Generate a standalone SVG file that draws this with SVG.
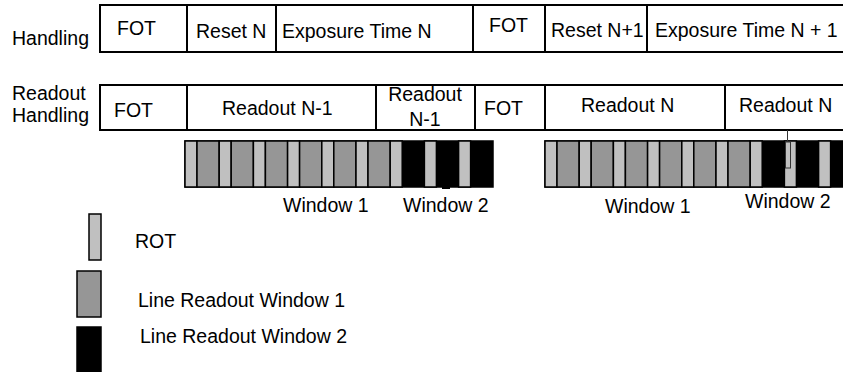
<svg xmlns="http://www.w3.org/2000/svg" xmlns:xlink="http://www.w3.org/1999/xlink" width="843" height="372" viewBox="0 0 843 372">
<style>
text{font-family:"Liberation Sans",Arial,sans-serif;font-size:19.5px;fill:#000}
.box{fill:#fff;stroke:#000;stroke-width:2}
.div{stroke:#000;stroke-width:2}
.rot{fill:#c0c0c0;stroke:#000;stroke-width:1.5}
.w1{fill:#969696;stroke:#000;stroke-width:1.5}
.w2{fill:#000;stroke:#000;stroke-width:1.5}
</style>
<rect width="843" height="372" fill="#fff"/>
<g id="row-handling">
<text x="12" y="45">Handling</text>
<rect class="box" x="100" y="5" width="760" height="47"/>
<line class="div" x1="187" y1="5" x2="187" y2="52"/>
<line class="div" x1="276" y1="5" x2="276" y2="52"/>
<line class="div" x1="473" y1="5" x2="473" y2="52"/>
<line class="div" x1="545" y1="5" x2="545" y2="52"/>
<line class="div" x1="647" y1="5" x2="647" y2="52"/>
<text x="117" y="35">FOT</text>
<text x="196" y="38">Reset N</text>
<text x="282" y="38">Exposure Time N</text>
<text x="489" y="32">FOT</text>
<text x="551" y="37">Reset N+1</text>
<text x="655" y="37">Exposure Time N + 1</text>
</g>
<g id="row-readout">
<text x="12" y="100">Readout</text>
<text x="12" y="122">Handling</text>
<rect class="box" x="100" y="85" width="760" height="45"/>
<line class="div" x1="187" y1="85" x2="187" y2="130"/>
<line class="div" x1="376" y1="85" x2="376" y2="130"/>
<line class="div" x1="475" y1="85" x2="475" y2="130"/>
<line class="div" x1="545" y1="85" x2="545" y2="130"/>
<line class="div" x1="725" y1="85" x2="725" y2="130"/>
<text x="114" y="117">FOT</text>
<text x="222" y="115">Readout N-1</text>
<text x="425" y="101" text-anchor="middle">Readout</text>
<text x="425" y="126" text-anchor="middle">N-1</text>
<text x="484" y="115">FOT</text>
<text x="581" y="112">Readout N</text>
<text x="739" y="112">Readout N</text>
</g>
<g id="bar1">
<rect class="w2" x="185" y="141" width="308" height="46"/>
<rect class="rot" x="185" y="141" width="12" height="46"/>
<rect class="w1" x="197" y="141" width="22.2" height="46"/>
<rect class="rot" x="219.2" y="141" width="12" height="46"/>
<rect class="w1" x="231.2" y="141" width="22.2" height="46"/>
<rect class="rot" x="253.4" y="141" width="12" height="46"/>
<rect class="w1" x="265.4" y="141" width="22.2" height="46"/>
<rect class="rot" x="287.6" y="141" width="12" height="46"/>
<rect class="w1" x="299.6" y="141" width="22.2" height="46"/>
<rect class="rot" x="321.8" y="141" width="12" height="46"/>
<rect class="w1" x="333.8" y="141" width="22.2" height="46"/>
<rect class="rot" x="356" y="141" width="12" height="46"/>
<rect class="w1" x="368" y="141" width="22.2" height="46"/>
<rect class="rot" x="390.2" y="141" width="12" height="46"/>
<rect class="rot" x="424.4" y="141" width="12" height="46"/>
<rect class="rot" x="458.6" y="141" width="12" height="46"/>
</g>
<use xlink:href="#bar1" href="#bar1" transform="translate(360,0)"/>
<rect x="442" y="186" width="8" height="3" fill="#000"/>
<g id="connectors">
<line x1="787.5" y1="130" x2="787.5" y2="142" stroke="#333" stroke-width="1"/>
<rect x="785.5" y="142" width="5" height="26" fill="#c0c0c0" stroke="#333" stroke-width="1"/>
</g>
<g id="bar-labels">
<text x="283" y="212">Window 1</text>
<text x="403" y="212">Window 2</text>
<text x="605" y="213">Window 1</text>
<text x="745" y="208">Window 2</text>
</g>
<g id="legend-rot">
<rect class="rot" x="89" y="214" width="12" height="46"/>
<text x="135" y="248">ROT</text>
</g>
<g id="legend-w1">
<rect class="w1" x="77" y="271" width="24" height="46"/>
<text x="138" y="307">Line Readout Window 1</text>
</g>
<g id="legend-w2">
<rect class="w2" x="77" y="327" width="24" height="50"/>
<text x="140" y="343">Line Readout Window 2</text>
</g>
</svg>
